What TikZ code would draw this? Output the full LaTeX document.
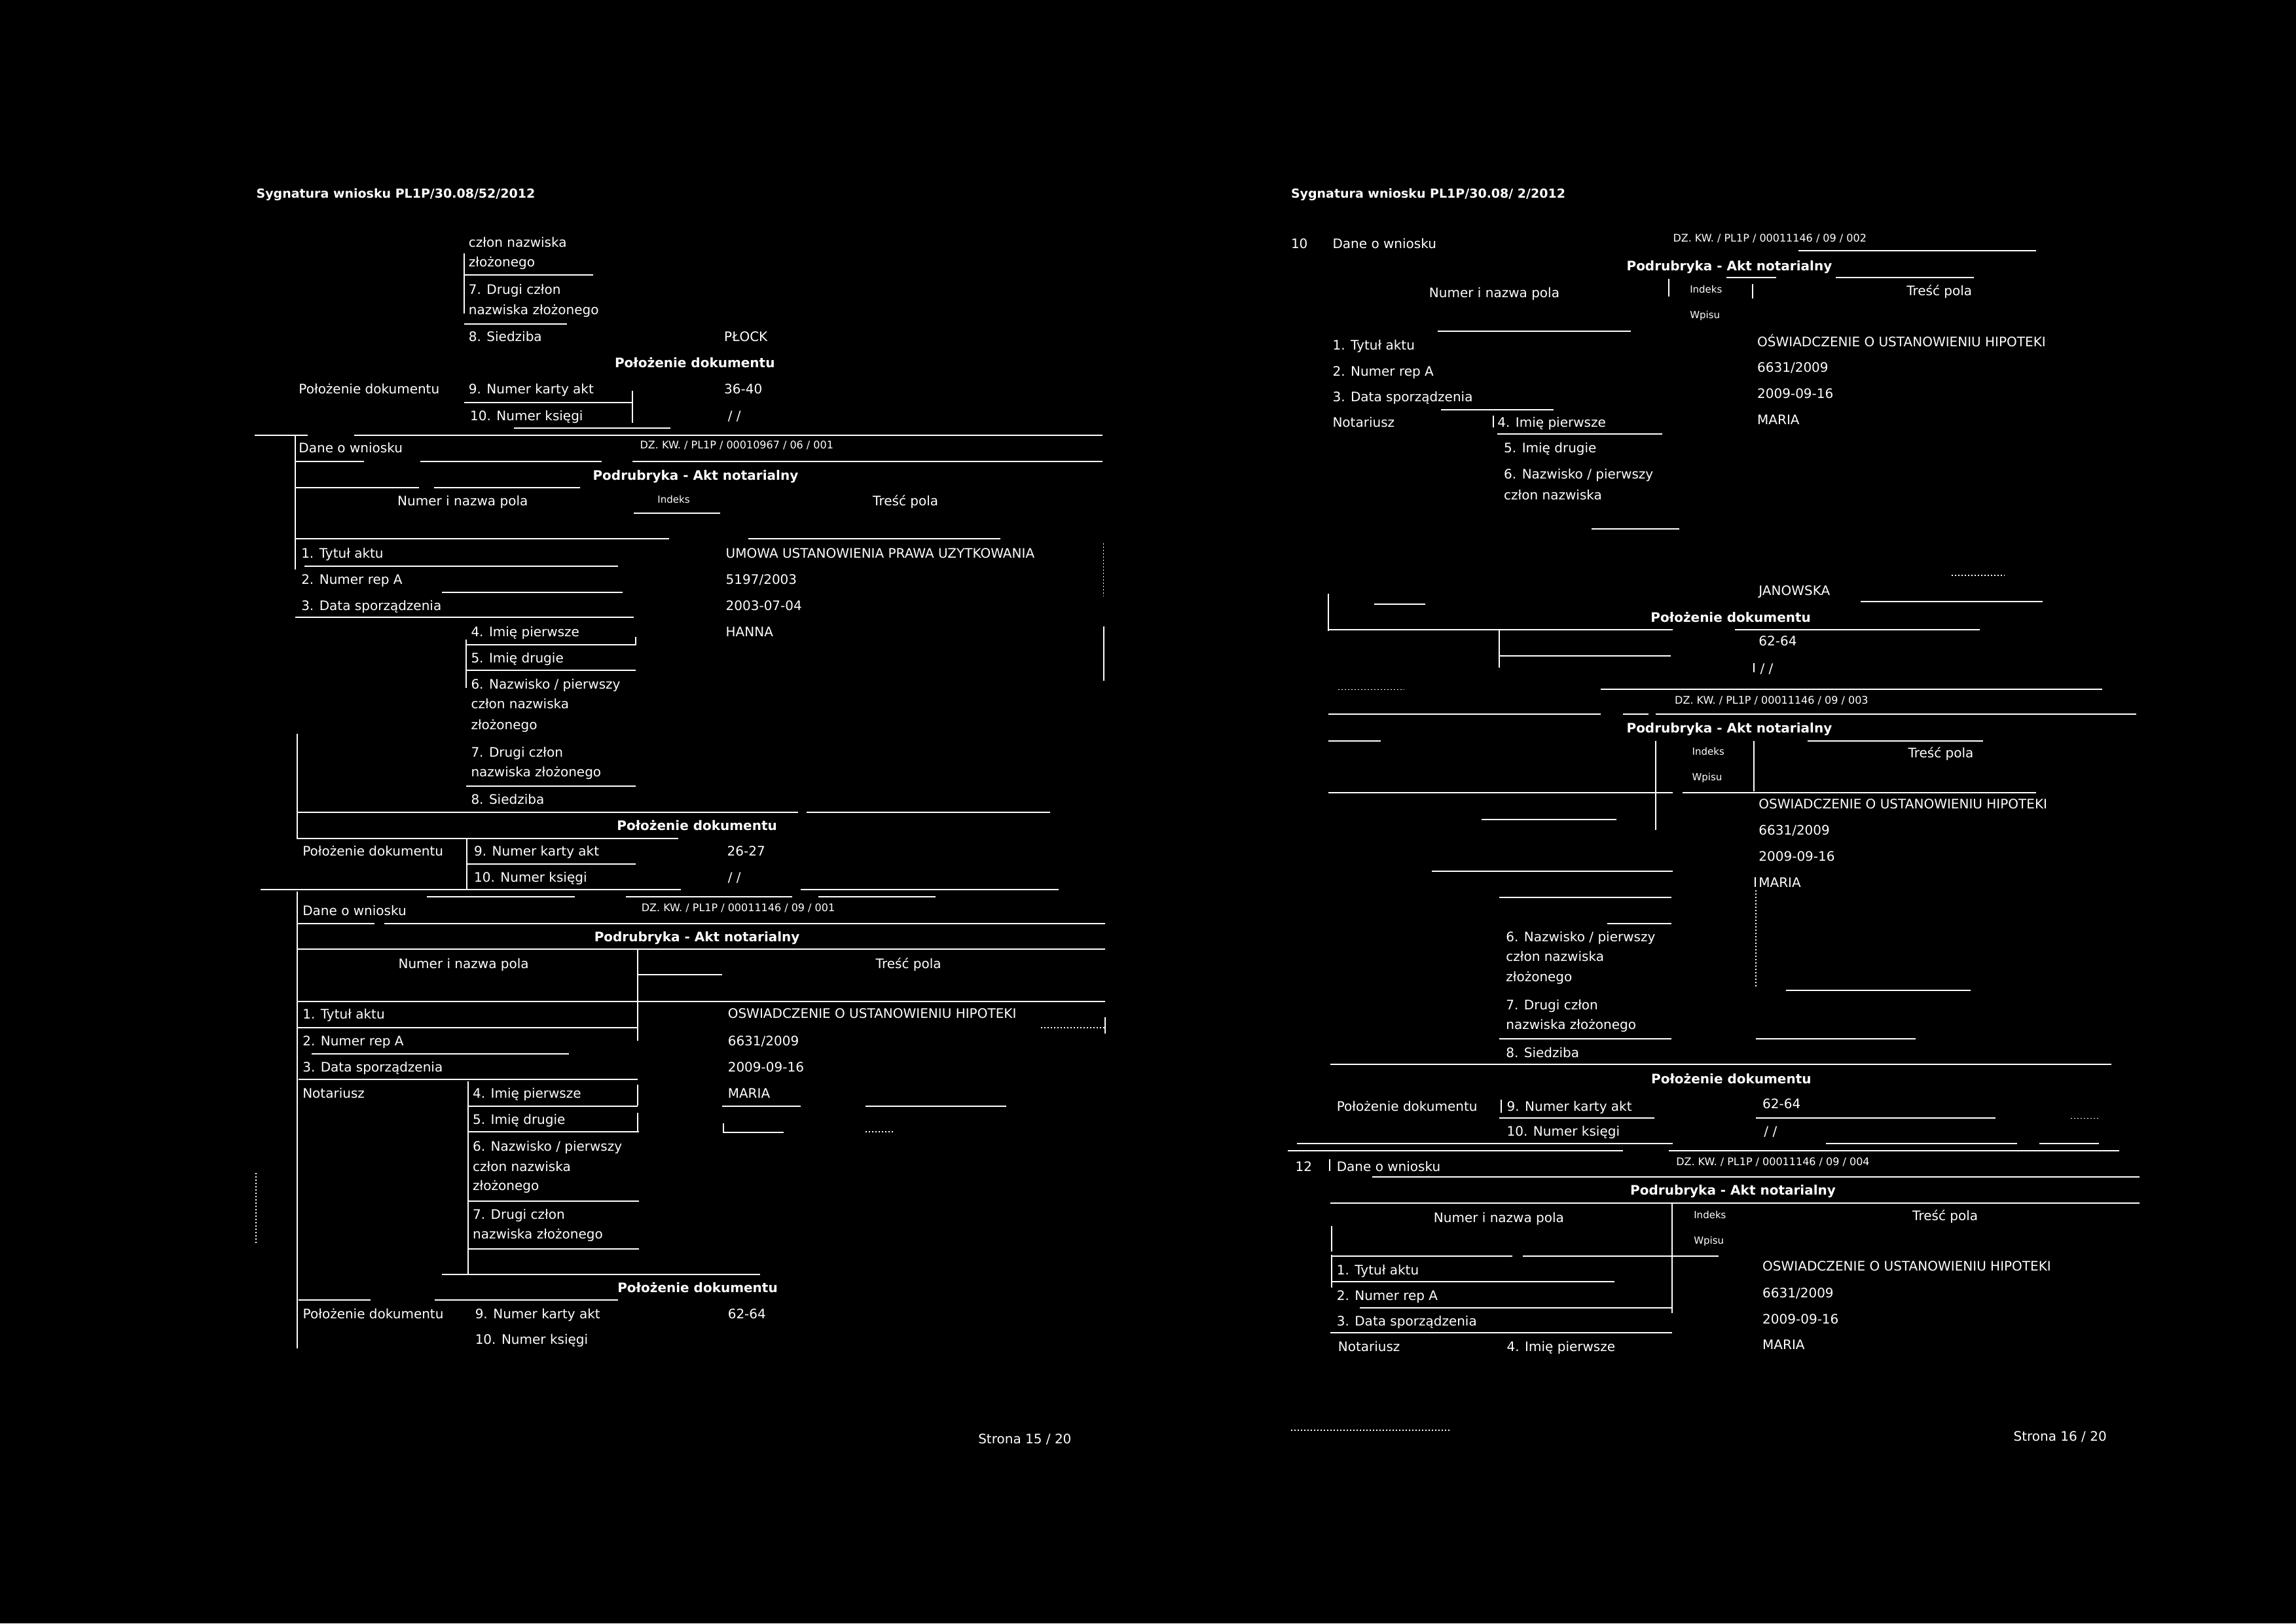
\documentclass[tikz,border=0pt]{standalone}
\usepackage{fontspec}
\setmainfont{DejaVu Sans}
\tikzset{
  txt/.style={font=\fontsize{20}{24}\selectfont, text=white, anchor=west, inner sep=0pt, text height=14.6pt, text depth=0pt},
  txc/.style={txt, anchor=center},
  hd/.style={font=\bfseries\fontsize{20}{24}\selectfont, text=white, anchor=center, inner sep=0pt, text height=14.6pt, text depth=0pt},
  ttl/.style={font=\bfseries\fontsize{19}{23}\selectfont, text=white, anchor=west, inner sep=0pt, text height=13.9pt, text depth=0pt},
  sm/.style={font=\fontsize{15}{18}\selectfont, text=white, anchor=west, inner sep=0pt, text height=11pt, text depth=0pt},
  dz/.style={font=\fontsize{16}{19}\selectfont, text=white, anchor=west, inner sep=0pt, text height=11.7pt, text depth=0pt},
  ln/.style={draw=white, line width=2pt},
  dl/.style={draw=white, line width=1.6pt, dash pattern=on 2pt off 3pt}
}
\newcommand\ntx[5][txt]{\node[#1] (#2) at (#3,#4) {#5};}
\newcommand\hln[3]{\draw[ln] (#1,#3) -- (#2,#3);}
\newcommand\vln[3]{\draw[ln] (#1,#2) -- (#1,#3);}
\newcommand\hld[3]{\draw[dl] (#1,#3) -- (#2,#3);}
\newcommand\vld[3]{\draw[dl] (#1,#2) -- (#1,#3);}
\begin{document}
\begin{tikzpicture}[x=2.2366pt,y=-2.2366pt]
\useasboundingbox (0,0) rectangle (1568,1109);
\fill[black] (0,0) rectangle (1568,1109);
% ================= LEFT PAGE =================
\ntx[ttl]{a0}{175}{132}{Sygnatura wniosku PL1P/30.08/52/2012}
\ntx{a1}{320}{165.5}{człon nazwiska}
\ntx{a2}{320}{179}{złożonego}
\ntx{a3}{320}{197.7}{7. Drugi człon}
\ntx{a4}{320}{211.7}{nazwiska złożonego}
\ntx{a5}{320}{230}{8. Siedziba}
\ntx{a6}{494.5}{230}{PŁOCK}
\ntx[hd]{a7}{474.5}{248}{Położenie dokumentu}
\ntx{a8}{204}{265.6}{Położenie dokumentu}
\ntx{a9}{320}{265.6}{9. Numer karty akt}
\ntx{a10}{494.5}{265.6}{36-40}
\ntx{a11}{321}{284}{10. Numer księgi}
\ntx{a12}{497}{284}{/ /}
\ntx{a13}{204}{306}{Dane o wniosku}
\ntx[dz]{a14}{437}{304}{DZ. KW. / PL1P / 00010967 / 06 / 001}
\ntx[hd]{a15}{475}{324.6}{Podrubryka - Akt notarialny}
\ntx[txc]{a16}{316}{342}{Numer i nazwa pola}
\ntx[sm]{a17}{449}{341}{Indeks}
\ntx{a18}{596}{342}{Treść pola}
\ntx{a19}{205.7}{377.8}{1. Tytuł aktu}
\ntx{a20}{495.6}{377.8}{UMOWA USTANOWIENIA PRAWA UZYTKOWANIA}
\ntx{a21}{205.7}{395.7}{2. Numer rep A}
\ntx{a22}{495.6}{395.7}{5197/2003}
\ntx{a23}{205.7}{413.6}{3. Data sporządzenia}
\ntx{a24}{495.6}{413.6}{2003-07-04}
\ntx{a25}{321.6}{431.5}{4. Imię pierwsze}
\ntx{a26}{495.6}{431.5}{HANNA}
\ntx{a27}{321.6}{449.4}{5. Imię drugie}
\ntx{a28}{321.6}{467.2}{6. Nazwisko / pierwszy}
\ntx{a29}{321.6}{480.6}{człon nazwiska}
\ntx{a30}{321.6}{495}{złożonego}
\ntx{a31}{321.6}{514}{7. Drugi człon}
\ntx{a32}{321.6}{527.3}{nazwiska złożonego}
\ntx{a33}{321.6}{546}{8. Siedziba}
\ntx[hd]{a34}{476}{564}{Położenie dokumentu}
\ntx{a35}{206.6}{581.5}{Położenie dokumentu}
\ntx{a36}{323.7}{581.5}{9. Numer karty akt}
\ntx{a37}{496.5}{581.5}{26-27}
\ntx{a38}{323.7}{599}{10. Numer księgi}
\ntx{a39}{497}{599}{/ /}
\ntx{a40}{206.6}{622}{Dane o wniosku}
\ntx[dz]{a41}{438}{620}{DZ. KW. / PL1P / 00011146 / 09 / 001}
\ntx[hd]{a42}{476}{640}{Podrubryka - Akt notarialny}
\ntx[txc]{a43}{316.6}{658}{Numer i nazwa pola}
\ntx{a44}{598}{658}{Treść pola}
\ntx{a45}{206.6}{692.6}{1. Tytuł aktu}
\ntx{a46}{497}{692}{OSWIADCZENIE O USTANOWIENIU HIPOTEKI}
\ntx{a47}{206.6}{711}{2. Numer rep A}
\ntx{a48}{497}{711}{6631/2009}
\ntx{a49}{206.6}{728.8}{3. Data sporządzenia}
\ntx{a50}{497}{728.8}{2009-09-16}
\ntx{a51}{206.6}{746.7}{Notariusz}
\ntx{a52}{322.8}{746.7}{4. Imię pierwsze}
\ntx{a53}{497}{746.7}{MARIA}
\ntx{a54}{322.8}{764.6}{5. Imię drugie}
\ntx{a55}{322.8}{783}{6. Nazwisko / pierwszy}
\ntx{a56}{322.8}{796.6}{człon nazwiska}
\ntx{a57}{322.8}{810}{złożonego}
\ntx{a58}{322.8}{829.4}{7. Drugi człon}
\ntx{a59}{322.8}{843}{nazwiska złożonego}
\ntx[hd]{a60}{476.4}{879.5}{Położenie dokumentu}
\ntx{a61}{206.8}{897.2}{Położenie dokumentu}
\ntx{a62}{324.4}{897.2}{9. Numer karty akt}
\ntx{a63}{497}{897.2}{62-64}
\ntx{a64}{324.4}{915}{10. Numer księgi}
\ntx{a65}{668}{982.8}{Strona 15 / 20}
% left lines
\vln{317}{173}{214}
\hln{317}{405}{188}
\hln{317}{387}{221.3}
\hln{317}{432}{275}
\vln{432}{267}{289}
\hln{351}{458}{292.4}
\hln{174}{210}{297.4}
\hln{242}{753}{297.4}
\vln{201.6}{297.4}{389}
\hln{201.6}{248.6}{315}
\hln{287}{411}{315}
\hln{432}{753}{315}
\hln{201.6}{286}{333}
\hln{296.5}{396}{333}
\hln{433}{492}{350.6}
\hln{201.6}{457}{368}
\hln{511}{683}{368}
\vld{753.6}{371}{407}
\hln{208}{422}{386.8}
\hln{302}{425}{404.6}
\hln{201.6}{433}{421.8}
\hln{318.5}{434}{440.4}
\vln{318.5}{437}{470}
\vln{434}{435}{441}
\hln{318.5}{434}{457.8}
\vln{753.6}{428}{465}
\vln{203}{501}{573}
\hln{318.5}{434}{536.8}
\hln{203}{545}{555}
\hln{551}{717}{555}
\hln{203}{463}{572.6}
\vln{318.8}{573}{607}
\hln{318.8}{434}{590}
\hln{178}{465}{607.6}
\hln{547}{723}{607.6}
\hln{291.5}{392.6}{612.5}
\hln{427.5}{541}{612.5}
\hln{559}{639}{612.5}
\vln{203}{609}{921}
\hln{203}{255.8}{631}
\hln{262.5}{754.7}{631}
\hln{203}{754.7}{648.3}
\vln{435.5}{648.3}{711}
\hln{435.5}{493}{665.8}
\hln{203}{754.7}{684}
\hln{203}{435.5}{702}
\hld{711}{754.7}{702}
\vln{754.7}{695}{706}
\hln{213}{388.6}{720}
\hln{203.7}{435.5}{737.4}
\vln{319.8}{738.6}{870.5}
\vln{435.5}{741}{755}
\vln{435.5}{760}{773}
\hln{319.8}{435.5}{755.6}
\hln{493}{547}{755.6}
\hln{591}{687}{755.6}
\hln{319.8}{436.5}{773}
\hln{494}{535}{773.5}
\vln{494}{767}{774}
\hld{591}{611}{773}
\hln{319.8}{436.5}{820.4}
\hln{319.8}{436.5}{853}
\vld{174.8}{801}{849.5}
\hln{301.7}{519}{870.4}
\hln{203.7}{253}{888}
\hln{297}{422}{888}
% ================= RIGHT PAGE =================
\ntx[ttl]{b0}{881.6}{132.2}{Sygnatura wniosku PL1P/30.08/ 2/2012}
\ntx{b1}{881.6}{166.5}{10}
\ntx{b2}{910}{166.5}{Dane o wniosku}
\ntx[dz]{b3}{1142.5}{162.5}{DZ. KW. / PL1P / 00011146 / 09 / 002}
\ntx[hd]{b4}{1181}{181.4}{Podrubryka - Akt notarialny}
\ntx[txc]{b5}{1020.5}{200}{Numer i nazwa pola}
\ntx[sm]{b6}{1154}{197.6}{Indeks}
\ntx{b7}{1302}{198.6}{Treść pola}
\ntx[sm]{b8}{1154}{215}{Wpisu}
\ntx{b9}{910}{235.6}{1. Tytuł aktu}
\ntx{b10}{1200}{233.6}{OŚWIADCZENIE O USTANOWIENIU HIPOTEKI}
\ntx{b11}{910}{253.6}{2. Numer rep A}
\ntx{b12}{1200}{251}{6631/2009}
\ntx{b13}{910}{271}{3. Data sporządzenia}
\ntx{b14}{1200}{269}{2009-09-16}
\ntx{b15}{910}{288.6}{Notariusz}
\ntx{b16}{1022.6}{288.6}{4. Imię pierwsze}
\ntx{b17}{1200}{286.7}{MARIA}
\ntx{b18}{1027}{306}{5. Imię drugie}
\ntx{b19}{1027}{324}{6. Nazwisko / pierwszy}
\ntx{b20}{1027}{338}{człon nazwiska}
\ntx{b21}{1201}{403.2}{JANOWSKA}
\ntx[hd]{b22}{1182}{421.5}{Położenie dokumentu}
\ntx{b23}{1201}{438}{62-64}
\ntx{b24}{1202}{456.5}{/ /}
\ntx[dz]{b25}{1143.7}{478.2}{DZ. KW. / PL1P / 00011146 / 09 / 003}
\ntx[hd]{b26}{1181}{497.3}{Podrubryka - Akt notarialny}
\ntx[sm]{b27}{1155.5}{513.3}{Indeks}
\ntx{b28}{1303}{514.4}{Treść pola}
\ntx[sm]{b29}{1155.5}{530.8}{Wpisu}
\ntx{b30}{1201}{549}{OSWIADCZENIE O USTANOWIENIU HIPOTEKI}
\ntx{b31}{1201}{567}{6631/2009}
\ntx{b32}{1201}{585}{2009-09-16}
\ntx{b33}{1201}{602.7}{MARIA}
\ntx{b34}{1028.4}{640}{6. Nazwisko / pierwszy}
\ntx{b35}{1028.4}{653.5}{człon nazwiska}
\ntx{b36}{1028.4}{667}{złożonego}
\ntx{b37}{1028.4}{686.3}{7. Drugi człon}
\ntx{b38}{1028.4}{700}{nazwiska złożonego}
\ntx{b39}{1028.4}{719}{8. Siedziba}
\ntx[hd]{b40}{1182.3}{737}{Położenie dokumentu}
\ntx{b41}{912.8}{755.6}{Położenie dokumentu}
\ntx{b42}{1029}{755.6}{9. Numer karty akt}
\ntx{b43}{1203.6}{754}{62-64}
\ntx{b44}{1029}{772.7}{10. Numer księgi}
\ntx{b45}{1204.6}{772.7}{/ /}
\ntx{b46}{884.6}{796.6}{12}
\ntx{b47}{912.8}{796.6}{Dane o wniosku}
\ntx[dz]{b48}{1144.6}{793.6}{DZ. KW. / PL1P / 00011146 / 09 / 004}
\ntx[hd]{b49}{1183.5}{813}{Podrubryka - Akt notarialny}
\ntx[txc]{b50}{1023.6}{831.6}{Numer i nazwa pola}
\ntx[sm]{b51}{1156.7}{829.8}{Indeks}
\ntx{b52}{1306}{830.4}{Treść pola}
\ntx[sm]{b53}{1156.7}{847.3}{Wpisu}
\ntx{b54}{912.8}{867.4}{1. Tytuł aktu}
\ntx{b55}{1203.6}{864.8}{OSWIADCZENIE O USTANOWIENIU HIPOTEKI}
\ntx{b56}{912.8}{884.9}{2. Numer rep A}
\ntx{b57}{1203.6}{883}{6631/2009}
\ntx{b58}{912.8}{902.3}{3. Data sporządzenia}
\ntx{b59}{1203.6}{900.9}{2009-09-16}
\ntx{b60}{913.7}{919.7}{Notariusz}
\ntx{b61}{1029}{919.7}{4. Imię pierwsze}
\ntx{b62}{1203.6}{918.4}{MARIA}
\ntx{b63}{1375}{981}{Strona 16 / 20}
% right lines
\hln{1228}{1390.5}{171.4}
\hln{1178.8}{1213}{189.7}
\hln{1253.7}{1347.8}{189.7}
\vln{1139.5}{190.5}{202.5}
\vln{1196.8}{194}{204}
\hln{982}{1113.8}{226.4}
\hln{984}{1061}{279.8}
\vln{1019.7}{284}{292}
\hln{1022.6}{1135}{296.6}
\hln{1087}{1147}{361.3}
\hld{1333}{1369}{393}
\vln{907.3}{405.5}{431}
\hln{938.5}{973.4}{412.7}
\hln{1270.7}{1395}{411}
\hln{907.3}{1142.5}{430.3}
\hln{1185}{1352}{430.3}
\vln{1024}{430}{456}
\hln{1024}{1141}{447.9}
\vln{1198}{453}{459}
\hld{913.7}{958.6}{471}
\hln{1093}{1435.5}{471}
\hln{907.3}{1093.3}{487.8}
\hln{1108.5}{1125.7}{487.8}
\hln{1130.8}{1459}{487.8}
\hln{907}{942.8}{506}
\hln{1234.5}{1354.4}{506}
\vln{1130.8}{506}{567}
\vln{1198}{506}{540.6}
\hln{907}{1142.5}{541.3}
\hln{1149}{1390.5}{541.3}
\hln{1012}{1104}{559.6}
\hln{978}{1142.5}{595}
\vln{1198.5}{599}{606}
\hln{1024}{1141.6}{612.8}
\vld{1199}{608}{675}
\hln{1097.6}{1141.6}{630.7}
\hln{1219.5}{1345.6}{676.6}
\hln{1024}{1141.6}{709.7}
\hln{1199}{1308}{709.7}
\hln{908.5}{1442}{727}
\vln{1025.3}{751}{760}
\hln{1024}{1130}{763.8}
\hln{1199}{1362.7}{763.8}
\hld{1414}{1433}{763.8}
\hln{885.8}{1142.5}{781}
\hln{1247}{1377.6}{781}
\hln{1392.7}{1433.5}{781}
\hln{879.5}{1108.4}{786}
\hln{1139.5}{1447.3}{786}
\vln{908}{792}{800}
\hln{937}{1461}{804}
\hln{908.5}{1461}{821.8}
\vln{1141.7}{822}{897}
\vln{909.4}{837.6}{854.7}
\vln{909.4}{857}{879.3}
\hln{909.4}{1032.6}{858}
\hln{1040}{1173.7}{858}
\hln{909.4}{1102.6}{875.5}
\hln{928.6}{1141.7}{893.4}
\hln{908.5}{1141.7}{910.3}
\hld{881.6}{990.7}{977}
\end{tikzpicture}
\end{document}
